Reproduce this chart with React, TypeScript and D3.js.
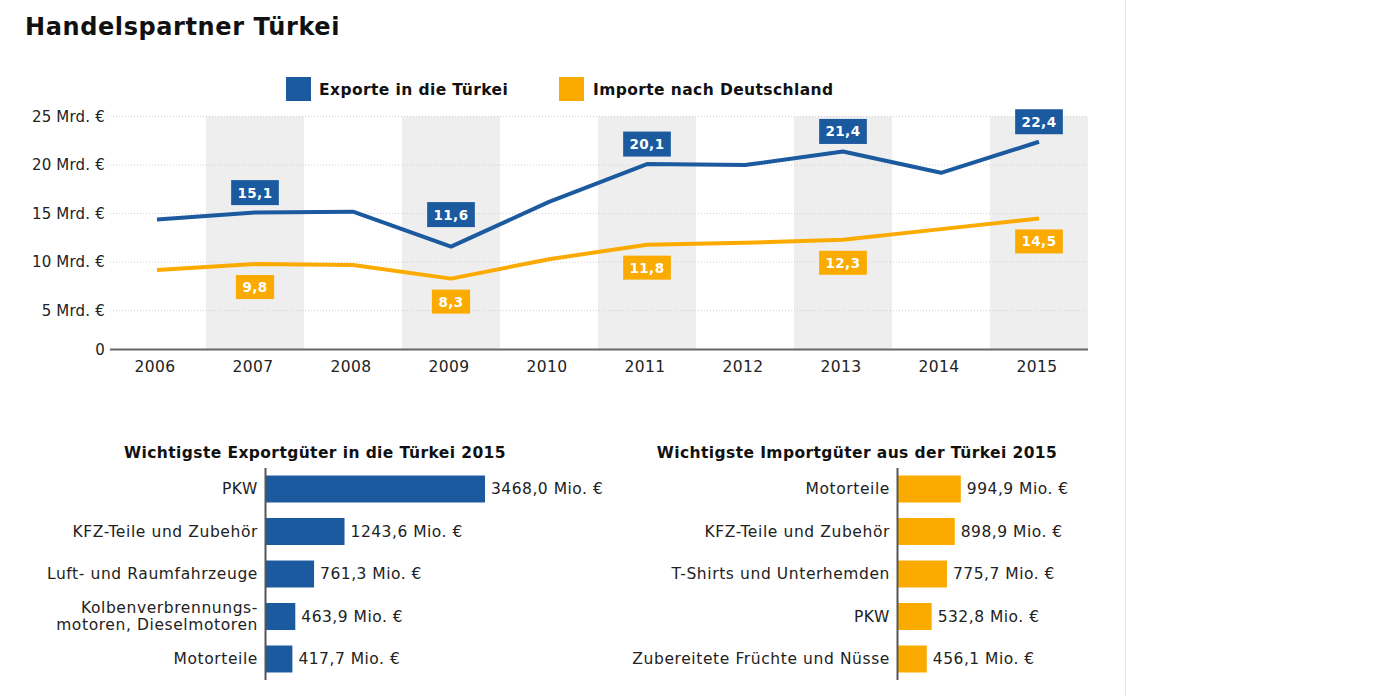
import React from "react";
import * as d3 from "d3";

const years = ["2006", "2007", "2008", "2009", "2010", "2011", "2012", "2013", "2014", "2015"];
const exportsTR = [14.4, 15.1, 15.2, 11.6, 16.2, 20.1, 20.0, 21.4, 19.2, 22.4];
const importsDE = [9.2, 9.8, 9.7, 8.3, 10.3, 11.8, 12.0, 12.3, 13.4, 14.5];
const labeledYears = ["2007", "2009", "2011", "2013", "2015"];
const shadedYears = ["2007", "2009", "2011", "2013", "2015"];
const yTicks = [0, 5, 10, 15, 20, 25];

const exportGoods = ["PKW", "KFZ-Teile und Zubehör", "Luft- und Raumfahrzeuge", "Kolbenverbrennungs-\nmotoren, Dieselmotoren", "Motorteile"];
const exportValues = [3468.0, 1243.6, 761.3, 463.9, 417.7];
const importGoods = ["Motorteile", "KFZ-Teile und Zubehör", "T-Shirts und Unterhemden", "PKW", "Zubereitete Früchte und Nüsse"];
const importValues = [994.9, 898.9, 775.7, 532.8, 456.1];

const BLUE = "#1b5a9e";
const ORANGE = "#fbab00";
const FONT = "'DejaVu Sans', Verdana, sans-serif";

const fmt = (v: number, d: number) => v.toFixed(d).replace(".", ",");
const boxWidth = (s: string) => {
  let w = 0;
  for (const ch of s) w += ch === "," ? 5.2 : 9.5;
  return w + 14;
};

function BarPanel({ title, titleX, originX, goods, values, color }: any) {
  const x = d3.scaleLinear().domain([0, 3468]).range([0, 219]);
  const y = d3.scaleBand().domain(goods).range([467.75, 680.25]).paddingInner(0.365).paddingOuter(0.1825);
  return (
    <g>
      <text x={titleX} y={458} textAnchor="middle" fontFamily={FONT} fontWeight="bold" fontSize={15.5} letterSpacing={0.4} fill="#111">{title}</text>
      {goods.map((g: string, i: number) => {
        const yy = y(g)!;
        const bh = y.bandwidth();
        const lines = g.split("\n");
        const cy = yy + bh / 2;
        return (
          <g key={g}>
            <rect x={originX} y={yy} width={x(values[i])} height={bh} fill={color} />
            {lines.map((ln, j) => (
              <text key={j} x={originX - 8} y={cy + 5 + (j - (lines.length - 1) / 2) * 16.5} textAnchor="end" fontFamily={FONT} fontSize={15.5} letterSpacing={0.6} fill="#222">{ln}</text>
            ))}
            <text x={originX + x(values[i]) + 6} y={cy + 5} fontFamily={FONT} fontSize={15.5} letterSpacing={0.5} fill="#222">{fmt(values[i], 1) + " Mio. €"}</text>
          </g>
        );
      })}
      <line x1={originX - 0.5} x2={originX - 0.5} y1={468} y2={680} stroke="#555" strokeWidth={2} />
    </g>
  );
}

export default function App() {
  const x = d3.scaleBand().domain(years).range([108, 1088]).padding(0);
  const y = d3.scaleLinear().domain([1, 25]).range([349.5, 116.5]);
  const cx = (yr: string) => x(yr)! + x.bandwidth() / 2;
  const line = d3.line<number>().x((_, i) => cx(years[i])).y((v) => y(v));
  const top = y(25);
  const base = y(1);

  return (
    <svg width={1394} height={696} style={{ position: "absolute", left: 0, top: 0, background: "#fff" }}>
      <line x1={1125.5} x2={1125.5} y1={0} y2={696} stroke="#e6e6e6" strokeWidth={1} />
      <text x={25} y={35} fontFamily={FONT} fontWeight="bold" fontSize={24} letterSpacing={0.6} fill="#111">Handelspartner Türkei</text>

      {/* legend */}
      <rect x={286} y={77} width={25} height={24} fill={BLUE} />
      <text x={319} y={95} fontFamily={FONT} fontWeight="bold" fontSize={15.5} letterSpacing={0.4} fill="#111">Exporte in die Türkei</text>
      <rect x={559} y={77} width={25} height={24} fill={ORANGE} />
      <text x={593} y={95} fontFamily={FONT} fontWeight="bold" fontSize={15.5} letterSpacing={0.4} fill="#111">Importe nach Deutschland</text>

      {/* shaded bands */}
      {shadedYears.map((yr) => (
        <rect key={yr} x={x(yr)} y={top} width={x.bandwidth()} height={base - top} fill="#eeeeee" />
      ))}
      {/* grid */}
      {yTicks.filter((t) => t > 0).map((t) => (
        <line key={t} x1={110} x2={1088} y1={y(t)} y2={y(t)} stroke="#cfcfcf" strokeWidth={1} strokeDasharray="1,2" />
      ))}
      {yTicks.map((t) => (
        <text key={t} x={105} y={y(Math.max(t, 1)) + 5} textAnchor="end" fontFamily={FONT} fontSize={15} letterSpacing={0.2} fill="#222">{t === 0 ? "0" : `${t} Mrd. €`}</text>
      ))}
      <line x1={110} x2={1088} y1={base} y2={base} stroke="#666" strokeWidth={2} />
      {years.map((yr) => (
        <text key={yr} x={cx(yr) - 2} y={372} textAnchor="middle" fontFamily={FONT} fontSize={15.5} letterSpacing={0.4} fill="#222">{yr}</text>
      ))}

      {/* lines */}
      <path d={line(importsDE)!} fill="none" stroke={ORANGE} strokeWidth={4} strokeLinejoin="round" />
      <path d={line(exportsTR)!} fill="none" stroke={BLUE} strokeWidth={4} strokeLinejoin="round" />

      {/* labels */}
      {years.map((yr, i) => {
        if (!labeledYears.includes(yr)) return null;
        const ex = fmt(exportsTR[i], 1);
        const im = fmt(importsDE[i], 1);
        const isMin = i > 0 && i < years.length - 1 && exportsTR[i] < exportsTR[i - 1] && exportsTR[i] < exportsTR[i + 1];
        const eyy = y(exportsTR[i]) - (isMin ? 32 : 20);
        const iy = y(importsDE[i]) + 23;
        const ew = boxWidth(ex);
        const iw = boxWidth(im);
        const c = cx(yr);
        return (
          <g key={yr}>
            <rect x={c - ew / 2} y={eyy - 12.5} width={ew} height={25} fill={BLUE} />
            <text x={c} y={eyy + 5} textAnchor="middle" fontFamily={FONT} fontWeight="bold" fontSize={13.5} letterSpacing={0.4} fill="#fff">{ex}</text>
            <rect x={c - iw / 2} y={iy - 12} width={iw} height={24} fill={ORANGE} />
            <text x={c} y={iy + 5} textAnchor="middle" fontFamily={FONT} fontWeight="bold" fontSize={13.5} letterSpacing={0.4} fill="#fff">{im}</text>
          </g>
        );
      })}

      <BarPanel title="Wichtigste Exportgüter in die Türkei 2015" titleX={315} originX={266} goods={exportGoods} values={exportValues} color={BLUE} />
      <BarPanel title="Wichtigste Importgüter aus der Türkei 2015" titleX={857} originX={898} goods={importGoods} values={importValues} color={ORANGE} />
    </svg>
  );
}
